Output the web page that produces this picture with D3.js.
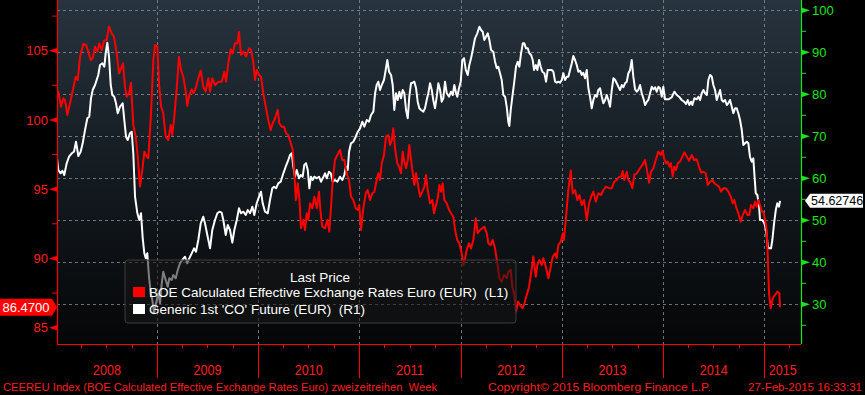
<!DOCTYPE html>
<html><head><meta charset="utf-8">
<script src="https://cdn.jsdelivr.net/npm/d3@7"></script>
<style>
html,body{margin:0;padding:0;background:#000;overflow:hidden;}
svg{display:block;font-family:"Liberation Sans",Arial,sans-serif;}
text{white-space:pre;}
</style></head><body>
<svg id="c" width="865" height="395"></svg>
<script>
// ---------- DATA ----------
// time values: years elapsed since 2008-01-01 (weekly observations read off the chart)
const years = ["2008","2009","2010","2011","2012","2013","2014","2015"];
const leftTicks = [85, 90, 95, 100, 105];
const leftMinor = [87.5, 92.5, 97.5, 102.5, 107.5];
const rightTicks = [30, 40, 50, 60, 70, 80, 90, 100];
const rightMinor = [25, 35, 45, 55, 65, 75, 85, 95];

const redT = [0.011,0.027,0.054,0.077,0.093,0.116,0.143,0.175,0.199,0.219,0.242,0.274,0.301,0.324,0.347,0.367,0.390,0.412,0.432,0.456,0.479,0.505,0.528,0.555,0.577,0.604,0.627,0.647,0.666,0.686,0.703,0.726,0.745,0.768,0.792,0.812,0.834,0.857,0.877,0.900,0.916,0.943,0.966,0.982,1.005,1.022,1.042,1.064,1.088,1.114,1.137,1.153,1.173,1.197,1.219,1.239,1.262,1.286,1.301,1.321,1.345,1.361,1.384,1.410,1.434,1.459,1.483,1.509,1.526,1.548,1.575,1.608,1.641,1.667,1.684,1.706,1.730,1.750,1.773,1.795,1.812,1.832,1.855,1.881,1.911,1.931,1.953,1.970,1.987,2.010,2.029,2.052,2.076,2.101,2.125,2.145,2.168,2.194,2.210,2.234,2.257,2.276,2.299,2.323,2.343,2.356,2.373,2.393,2.408,2.424,2.447,2.464,2.481,2.497,2.513,2.536,2.556,2.580,2.602,2.619,2.635,2.662,2.684,2.704,2.721,2.738,2.760,2.783,2.810,2.832,2.852,2.876,2.899,2.918,2.941,2.965,2.985,3.000,3.017,3.040,3.064,3.083,3.106,3.129,3.149,3.172,3.188,3.205,3.222,3.244,3.264,3.287,3.304,3.321,3.336,3.353,3.376,3.393,3.412,3.429,3.445,3.462,3.479,3.494,3.511,3.528,3.544,3.561,3.577,3.600,3.623,3.643,3.659,3.676,3.699,3.722,3.738,3.755,3.775,3.791,3.808,3.824,3.840,3.864,3.887,3.906,3.929,3.946,3.968,3.988,4.012,4.028,4.045,4.061,4.084,4.104,4.127,4.150,4.170,4.193,4.216,4.235,4.259,4.275,4.298,4.318,4.341,4.364,4.383,4.407,4.430,4.456,4.472,4.496,4.512,4.532,4.548,4.568,4.588,4.611,4.631,4.654,4.677,4.697,4.719,4.743,4.759,4.779,4.802,4.818,4.842,4.868,4.891,4.911,4.934,4.950,4.966,4.990,5.010,5.022,5.042,5.065,5.089,5.108,5.131,5.154,5.174,5.197,5.220,5.247,5.270,5.290,5.312,5.336,5.361,5.388,5.411,5.437,5.467,5.494,5.519,5.543,5.566,5.586,5.602,5.618,5.642,5.658,5.675,5.697,5.717,5.741,5.773,5.796,5.823,5.845,5.862,5.882,5.905,5.928,5.954,5.978,5.997,6.013,6.030,6.047,6.063,6.079,6.096,6.112,6.129,6.146,6.168,6.191,6.211,6.235,6.257,6.284,6.307,6.333,6.356,6.376,6.398,6.422,6.442,6.465,6.488,6.507,6.531,6.553,6.573,6.596,6.620,6.645,6.669,6.689,6.705,6.721,6.744,6.768,6.788,6.810,6.833,6.853,6.869,6.892,6.909,6.926,6.942,6.958,6.975,6.991,7.008,7.024,7.034,7.047,7.064,7.084,7.107,7.129,7.149,7.156];
const redV = [101.92,102.04,100.96,101.56,101.44,100.36,101.20,102.29,103.12,102.88,104.57,105.48,105.41,104.93,104.33,104.45,105.29,104.93,105.53,105.05,105.72,105.77,106.73,106.26,106.01,104.81,103.37,103.73,104.09,102.40,101.68,101.92,102.69,99.64,98.79,97.35,95.18,96.39,97.71,97.35,97.23,100.48,104.33,105.41,105.29,102.65,100.96,100.48,98.79,98.55,99.64,98.91,100.23,102.29,104.57,103.61,103.12,102.04,101.01,101.80,102.21,101.92,102.29,103.01,103.56,102.40,102.04,103.01,102.04,103.01,102.52,102.76,102.76,103.48,102.76,104.09,105.10,104.81,105.53,105.53,106.37,104.69,104.93,104.57,105.17,105.05,104.21,102.88,103.61,103.25,103.12,101.92,100.96,100.00,99.27,99.76,100.12,100.72,99.76,99.51,99.51,99.04,98.91,98.31,97.83,96.62,94.22,95.43,94.34,92.18,92.78,92.05,93.26,92.78,93.98,93.62,94.46,93.62,94.82,93.26,92.29,92.18,92.78,91.93,93.74,95.66,97.11,97.47,97.83,97.11,97.11,96.15,95.66,94.46,94.22,93.62,93.50,93.86,92.05,93.62,94.70,94.94,94.22,94.70,94.82,95.66,96.15,95.66,96.87,97.47,98.79,98.91,98.19,98.55,99.40,97.95,96.87,96.62,96.15,97.71,96.99,96.51,97.11,98.19,97.11,96.15,95.30,96.15,95.43,94.46,94.82,95.18,96.03,94.94,93.98,94.22,93.26,93.74,94.34,95.30,94.82,95.43,94.22,93.98,93.50,93.26,93.01,92.05,91.33,91.09,90.37,89.53,90.01,90.61,91.09,90.73,91.33,92.90,91.82,92.05,92.18,92.29,91.82,91.09,90.97,91.33,90.73,89.65,88.57,88.32,88.81,88.57,89.04,89.17,87.96,87.36,86.16,86.88,86.64,86.40,86.76,87.36,87.96,88.93,90.13,88.68,89.53,89.89,89.53,90.01,89.40,88.57,89.40,90.13,90.37,90.01,90.97,91.21,91.82,91.33,93.01,94.94,96.34,94.70,94.94,94.22,94.58,93.86,94.22,92.78,93.98,94.46,94.82,94.10,94.70,94.58,94.94,95.18,95.07,95.07,95.54,95.66,95.90,95.90,96.31,95.66,96.26,95.66,95.54,95.07,96.03,96.15,96.51,96.75,97.11,96.26,95.47,96.26,96.51,97.11,97.71,97.47,97.78,97.16,96.87,96.99,96.62,96.87,95.90,96.62,96.39,96.87,96.99,97.35,97.66,97.35,97.06,97.47,97.11,97.16,96.62,96.19,96.26,96.15,95.30,95.54,95.66,95.43,95.30,95.18,94.82,95.07,95.07,94.82,94.46,93.98,94.22,93.74,93.26,92.65,93.14,93.50,93.14,93.14,93.86,93.62,94.10,93.74,94.22,93.86,93.38,93.38,92.78,92.05,90.37,87.48,86.40,87.12,87.36,87.60,87.48,86.47];

const whiteT = [0.011,0.027,0.051,0.067,0.086,0.110,0.133,0.160,0.182,0.202,0.225,0.248,0.268,0.291,0.314,0.333,0.350,0.367,0.390,0.406,0.422,0.439,0.462,0.482,0.495,0.511,0.528,0.545,0.561,0.580,0.597,0.614,0.637,0.663,0.679,0.696,0.713,0.735,0.752,0.768,0.785,0.808,0.827,0.844,0.861,0.877,0.891,0.906,0.923,0.940,0.956,0.973,0.999,1.015,1.032,1.049,1.064,1.088,1.108,1.124,1.147,1.163,1.187,1.207,1.229,1.252,1.279,1.301,1.321,1.345,1.368,1.387,1.410,1.434,1.459,1.476,1.499,1.526,1.548,1.575,1.598,1.618,1.641,1.657,1.681,1.701,1.723,1.746,1.766,1.790,1.812,1.832,1.855,1.878,1.898,1.921,1.944,1.963,1.987,2.010,2.029,2.046,2.069,2.096,2.118,2.141,2.158,2.178,2.200,2.224,2.250,2.273,2.293,2.316,2.333,2.349,2.365,2.382,2.405,2.422,2.441,2.457,2.474,2.491,2.507,2.523,2.540,2.556,2.580,2.602,2.622,2.639,2.662,2.678,2.701,2.718,2.738,2.760,2.783,2.810,2.832,2.852,2.869,2.886,2.899,2.918,2.941,2.965,2.985,3.008,3.030,3.050,3.074,3.096,3.116,3.139,3.156,3.172,3.188,3.205,3.222,3.244,3.261,3.277,3.294,3.314,3.330,3.346,3.363,3.380,3.396,3.412,3.429,3.445,3.462,3.479,3.494,3.511,3.528,3.544,3.561,3.577,3.593,3.610,3.633,3.649,3.666,3.682,3.699,3.716,3.731,3.748,3.765,3.781,3.798,3.814,3.830,3.847,3.864,3.887,3.906,3.923,3.939,3.956,3.968,3.985,4.002,4.018,4.035,4.052,4.071,4.087,4.104,4.121,4.143,4.166,4.186,4.203,4.219,4.235,4.252,4.269,4.285,4.302,4.324,4.341,4.358,4.373,4.390,4.407,4.423,4.440,4.456,4.472,4.482,4.496,4.512,4.529,4.548,4.565,4.581,4.598,4.615,4.630,4.647,4.664,4.680,4.697,4.713,4.726,4.743,4.759,4.776,4.792,4.808,4.828,4.845,4.861,4.877,4.901,4.917,4.934,4.950,4.966,4.983,5.000,5.016,5.032,5.049,5.065,5.082,5.099,5.114,5.131,5.148,5.164,5.181,5.197,5.213,5.230,5.247,5.263,5.279,5.296,5.312,5.329,5.346,5.361,5.378,5.395,5.411,5.428,5.444,5.460,5.477,5.494,5.510,5.527,5.543,5.559,5.576,5.593,5.608,5.625,5.642,5.658,5.675,5.691,5.707,5.724,5.741,5.756,5.773,5.790,5.806,5.823,5.840,5.855,5.872,5.889,5.905,5.922,5.938,5.954,5.971,5.988,6.003,6.020,6.053,6.086,6.112,6.136,6.158,6.185,6.208,6.228,6.244,6.260,6.277,6.290,6.310,6.333,6.349,6.366,6.383,6.399,6.416,6.433,6.448,6.465,6.482,6.497,6.514,6.531,6.547,6.564,6.580,6.596,6.613,6.630,6.645,6.662,6.679,6.695,6.712,6.728,6.744,6.761,6.778,6.793,6.810,6.827,6.843,6.859,6.876,6.892,6.902,6.916,6.932,6.949,6.958,6.981,7.001,7.018,7.035,7.047,7.067,7.080,7.097,7.114,7.129,7.146,7.156];
const whiteV = [65.55,61.98,61.19,61.81,60.78,63.57,65.14,65.95,66.33,68.71,65.31,66.33,68.33,71.50,74.29,74.67,79.05,81.02,82.21,83.40,84.60,86.98,87.38,86.57,89.76,92.29,88.95,82.21,79.83,79.43,77.86,75.48,77.05,77.86,73.88,69.90,69.12,70.71,71.09,65.95,55.62,51.67,50.07,51.67,45.71,42.14,40.95,42.14,36.57,32.62,31.02,27.86,31.02,32.62,30.24,35.00,37.76,35.78,34.19,36.19,35.78,36.98,36.19,38.17,39.76,40.55,41.33,39.76,40.95,42.14,43.33,42.52,45.31,49.28,50.86,49.28,46.50,43.33,47.69,50.07,51.67,52.05,51.81,50.07,46.50,48.88,47.69,44.67,47.69,50.07,52.86,51.67,52.05,51.26,52.45,51.67,53.24,51.26,54.05,55.62,56.81,54.05,52.05,51.67,54.83,57.62,58.00,57.62,58.81,59.19,61.19,62.76,63.95,65.55,65.95,62.76,60.38,61.98,60.00,60.78,60.38,63.17,63.57,61.98,57.62,60.38,59.59,60.38,60.00,60.38,59.19,60.00,61.19,60.00,61.57,61.19,59.19,59.59,59.19,60.38,59.59,60.78,62.76,61.98,66.33,68.33,68.71,69.90,71.09,71.90,73.48,72.29,73.88,73.48,75.07,75.86,80.24,82.21,83.00,81.02,82.21,83.40,85.79,88.17,85.38,84.60,82.21,76.26,80.24,78.64,80.62,79.05,81.02,80.24,76.26,74.29,79.43,82.62,82.76,83.00,81.43,78.24,76.67,76.26,75.86,76.67,78.64,80.24,82.62,81.02,78.64,76.67,79.43,82.62,81.02,78.24,79.05,83.00,80.24,79.43,80.62,79.83,82.21,80.24,79.43,81.43,83.00,88.17,88.57,85.79,84.60,86.98,88.57,90.55,93.33,94.52,96.10,95.31,94.90,92.93,93.71,94.52,92.93,90.55,90.14,87.76,86.19,86.57,85.00,83.40,79.83,79.43,77.05,73.48,72.45,76.26,79.43,82.62,86.57,87.76,86.57,89.76,92.14,92.14,90.95,90.95,89.76,89.36,88.17,85.79,86.98,85.79,88.17,86.57,85.38,85.00,83.00,85.79,85.79,85.79,85.38,83.00,82.76,83.00,82.76,83.40,85.00,83.40,84.19,84.19,85.79,87.38,89.12,88.17,86.98,85.38,85.62,84.60,85.14,83.81,85.79,81.43,79.43,76.67,78.64,79.83,79.43,81.02,81.43,79.43,77.86,78.64,79.83,78.64,77.05,81.02,83.81,83.40,82.62,81.81,81.02,82.21,81.67,82.62,83.00,85.00,85.79,88.17,84.19,81.19,80.62,81.02,82.21,80.24,79.05,77.45,78.24,78.64,80.24,81.81,81.19,81.67,80.62,81.81,81.43,79.43,81.81,78.81,78.81,79.29,80.62,79.83,79.43,78.64,78.24,77.69,78.64,77.45,78.24,77.45,79.05,78.81,79.43,78.64,80.24,81.02,80.24,79.83,83.40,84.60,84.19,82.21,81.02,78.64,79.83,81.02,78.64,78.24,78.64,77.45,77.86,78.64,77.05,75.48,76.67,76.67,75.48,73.88,71.50,67.93,68.33,68.71,68.33,65.14,63.95,64.76,61.19,56.43,56.02,53.24,50.07,50.07,49.28,47.69,43.71,43.33,43.33,45.31,49.28,52.45,54.05,53.24,54.63];

const redLast = 86.47, redLastLabel = "86.4700";
const whiteLast = 54.62746, whiteLastLabel = "54.62746";
const legendTitle = "Last Price";
const legendItems = [
  {name: "BOE Calculated Effective Exchange Rates Euro (EUR)  (L1)", color: "#ff0000"},
  {name: "Generic 1st 'CO' Future (EUR)  (R1)", color: "#ffffff"}
];
const footerLeft = "CEEREU Index (BOE Calculated Effective Exchange Rates Euro) zweizeitreihen  Week";
const footerMid = "Copyright\u00A9 2015 Bloomberg Finance L.P.";
const footerRight = "27-Feb-2015 16:33:31";

// ---------- CHART ----------
const svg = d3.select("#c");
const L = 57, R = 801, T = 0, B = 344;
const RED = "#ff0000", GREEN = "#19e619", AXRED = "#ff1c1c";
const toDate = t => new Date(Date.UTC(2008,0,1) + t*365.25*864e5);

const x = d3.scaleUtc().domain([toDate(0.0143), toDate(7.363)]).range([L, R]);
const yL = d3.scaleLinear().domain([83.82, 108.66]).range([B, T]);
const yR = d3.scaleLinear().domain([20.55, 102.45]).range([B, T]);

svg.append("rect").attr("width",865).attr("height",395).attr("fill","#000");

const defs = svg.append("defs");
const g = defs.append("linearGradient").attr("id","bg").attr("x1",0).attr("y1",0).attr("x2",0).attr("y2",1);
g.append("stop").attr("offset","0").attr("stop-color","#27333e");
g.append("stop").attr("offset","0.5").attr("stop-color","#141b21");
g.append("stop").attr("offset","1").attr("stop-color","#050607");
defs.append("clipPath").attr("id","plot").append("rect").attr("x",L).attr("y",T).attr("width",R-L).attr("height",B-T);

svg.append("rect").attr("x",L).attr("y",T).attr("width",R-L).attr("height",B-T).attr("fill","url(#bg)");

// gridlines
const yearStarts = d3.utcYear.range(new Date(Date.UTC(2008,0,1)), new Date(Date.UTC(2016,0,1)));
const domain = x.domain();
const innerYears = yearStarts.filter(d => d > domain[0] && d < domain[1]);
const grid = svg.append("g").attr("stroke","#8f9499").attr("stroke-width",1).attr("stroke-dasharray","3,3").attr("opacity",0.75);
grid.selectAll("line.h").data(rightTicks).join("line")
  .attr("x1",L).attr("x2",R).attr("y1",d=>Math.round(yR(d))+0.5).attr("y2",d=>Math.round(yR(d))+0.5);
grid.selectAll("line.v").data(innerYears).join("line")
  .attr("y1",T).attr("y2",B).attr("x1",d=>Math.round(x(d))+0.5).attr("x2",d=>Math.round(x(d))+0.5);

// lines
const plot = svg.append("g").attr("clip-path","url(#plot)");
const whiteData = whiteT.map((t,i)=>({d:toDate(t), v:whiteV[i]}));
const redData = redT.map((t,i)=>({d:toDate(t), v:redV[i]}));
plot.append("path").datum(whiteData).attr("fill","none").attr("stroke","#ffffff").attr("stroke-width",2).attr("stroke-linejoin","round")
  .attr("d", d3.line().x(p=>x(p.d)).y(p=>yR(p.v)));
plot.append("path").datum(redData).attr("fill","none").attr("stroke",RED).attr("stroke-width",2).attr("stroke-linejoin","round")
  .attr("d", d3.line().x(p=>x(p.d)).y(p=>yL(p.v)));

// left axis
const la = svg.append("g");
la.append("line").attr("x1",L+0.5).attr("x2",L+0.5).attr("y1",T).attr("y2",B).attr("stroke",RED).attr("stroke-width",1.2);
la.selectAll("path.tri").data(leftTicks).join("path")
  .attr("d", d=>{const y=yL(d); return `M${L},${y-2.6}L${L},${y+2.6}L${L-8},${y}Z`;}).attr("fill",RED);
la.selectAll("line.mn").data(leftMinor).join("line")
  .attr("x1",L-5).attr("x2",L).attr("y1",d=>yL(d)).attr("y2",d=>yL(d)).attr("stroke",RED);
la.selectAll("text").data(leftTicks).join("text")
  .attr("x",L-9).attr("y",d=>yL(d)).attr("dy","0.36em").attr("text-anchor","end")
  .attr("fill",AXRED).attr("font-size",13).text(d=>d);

// right axis
const ra = svg.append("g");
ra.append("line").attr("x1",R+0.5).attr("x2",R+0.5).attr("y1",T).attr("y2",B).attr("stroke",GREEN).attr("stroke-width",1.2);
ra.selectAll("path.tri").data(rightTicks).join("path")
  .attr("d", d=>{const y=yR(d); return `M${R+1},${y-2.6}L${R+1},${y+2.6}L${R+9},${y}Z`;}).attr("fill",GREEN);
ra.selectAll("line.mn").data(rightMinor).join("line")
  .attr("x1",R).attr("x2",R+5).attr("y1",d=>yR(d)).attr("y2",d=>yR(d)).attr("stroke",GREEN);
ra.selectAll("text").data(rightTicks).join("text")
  .attr("x",R+11).attr("y",d=>yR(d)).attr("dy","0.36em")
  .attr("fill",GREEN).attr("font-size",13).text(d=>d);

// bottom axis
const ba = svg.append("g").attr("stroke",RED);
ba.append("line").attr("x1",L).attr("x2",R).attr("y1",B+0.5).attr("y2",B+0.5).attr("stroke-width",1.2);
const quarters = d3.utcMonth.every(3).range(domain[0], domain[1]).filter(d=>d.getUTCMonth()!==0);
ba.selectAll("line.q").data(quarters).join("line")
  .attr("x1",d=>Math.round(x(d))+0.5).attr("x2",d=>Math.round(x(d))+0.5).attr("y1",B).attr("y2",B+4);
ba.selectAll("line.y").data(innerYears).join("line")
  .attr("x1",d=>Math.round(x(d))+0.5).attr("x2",d=>Math.round(x(d))+0.5).attr("y1",B).attr("y2",B+34);
const yl = svg.append("g");
yl.selectAll("text").data(years).join("text")
  .attr("x", (s)=>{const a=new Date(Date.UTC(+s,0,1)), b=new Date(Date.UTC(+s+1,0,1));
      const x0=Math.max(x(a),L), x1=Math.min(x(b),R); return (x0+x1)/2;})
  .attr("y", B+31).attr("text-anchor","middle").attr("fill",AXRED).attr("font-size",14)
  .attr("textLength",28).attr("lengthAdjust","spacingAndGlyphs").text(d=>d);

// legend
const lg = svg.append("g");
lg.append("rect").attr("x",125).attr("y",260).attr("width",391).attr("height",63).attr("rx",3)
  .attr("fill","rgba(22,22,22,0.55)").attr("stroke","#3d3d3d");
lg.append("text").attr("x",320).attr("y",281.5).attr("text-anchor","middle").attr("fill","#fff").attr("font-size",13.5).text(legendTitle);
legendItems.forEach((it,i)=>{
  lg.append("rect").attr("x",133).attr("y",287+i*17).attr("width",12).attr("height",10).attr("fill",it.color);
  lg.append("text").attr("x",149).attr("y",297+i*17).attr("fill","#fff").attr("font-size",13.5).text(it.name);
});

// last-value labels
const yr = yL(redLast);
svg.append("path").attr("d",`M0,${yr-8.5}H52L57,${yr}L52,${yr+8.5}H0Z`).attr("fill",RED);
svg.append("text").attr("x",2.5).attr("y",yr).attr("dy","0.36em").attr("fill","#fff").attr("font-size",13).text(redLastLabel);
const yw = yR(whiteLast);
svg.append("path").attr("d",`M${R+4},${yw}L${R+9},${yw-7}H863V${yw+7}H${R+9}Z`).attr("fill","#fff");
svg.append("text").attr("x",R+10).attr("y",yw).attr("dy","0.36em").attr("fill","#000").attr("font-size",12.5).text(whiteLastLabel);

// footer
const ft = svg.append("g").attr("fill",AXRED).attr("font-size",10.5);
ft.append("text").attr("x",3).attr("y",390.5).attr("textLength",434).attr("lengthAdjust","spacingAndGlyphs").text(footerLeft);
ft.append("text").attr("x",488).attr("y",390.5).attr("textLength",223).attr("lengthAdjust","spacingAndGlyphs").text(footerMid);
ft.append("text").attr("x",748).attr("y",390.5).attr("textLength",114).attr("lengthAdjust","spacingAndGlyphs").text(footerRight);
</script>
</body></html>
